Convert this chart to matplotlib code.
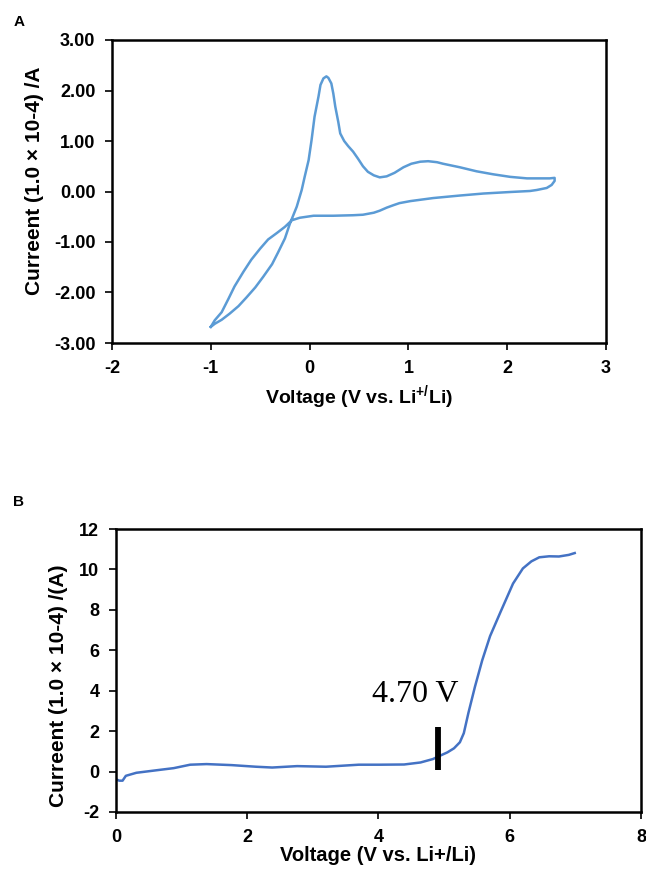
import matplotlib
matplotlib.use("Agg")
import matplotlib.pyplot as plt
from matplotlib import font_manager

# Panel A : cyclic voltammogram (anodic sweep, then cathodic return)
cv_v = [-1.00, -0.96, -0.89, -0.81, -0.72, -0.64, -0.55, -0.47, -0.38, -0.32,
        -0.25, -0.20, -0.13, -0.08, -0.05, -0.01, 0.02, 0.05, 0.09, 0.11,
        0.14, 0.17, 0.19, 0.22, 0.24, 0.26, 0.29, 0.31, 0.35, 0.39,
        0.44, 0.49, 0.54, 0.59, 0.65, 0.71, 0.78, 0.86, 0.95, 1.03,
        1.12, 1.20, 1.29, 1.35, 1.52, 1.69, 1.86, 2.03, 2.20, 2.37,
        2.43, 2.48, 2.48, 2.45, 2.40, 2.30, 2.23, 2.03, 1.76, 1.52,
        1.25, 1.02, 0.91, 0.85, 0.78, 0.71, 0.65, 0.54, 0.44, 0.24,
        0.04, -0.10, -0.18, -0.25, -0.33, -0.42, -0.50, -0.59, -0.67, -0.76,
        -0.82, -0.89, -0.96, -1.00]
cv_i = [-2.68, -2.62, -2.54, -2.42, -2.27, -2.10, -1.90, -1.69, -1.44, -1.21,
        -0.93, -0.64, -0.30, 0.03, 0.29, 0.62, 1.02, 1.48, 1.88, 2.11,
        2.24, 2.28, 2.25, 2.14, 1.94, 1.68, 1.38, 1.15, 1.00, 0.90,
        0.79, 0.65, 0.50, 0.39, 0.32, 0.28, 0.30, 0.37, 0.48, 0.55,
        0.59, 0.60, 0.58, 0.55, 0.48, 0.40, 0.34, 0.29, 0.26, 0.26,
        0.26, 0.27, 0.21, 0.13, 0.07, 0.03, 0.01, -0.01, -0.04, -0.08,
        -0.13, -0.19, -0.23, -0.27, -0.32, -0.38, -0.42, -0.46, -0.47, -0.48,
        -0.48, -0.52, -0.57, -0.70, -0.82, -0.95, -1.13, -1.35, -1.59, -1.88,
        -2.12, -2.39, -2.55, -2.68]

# Panel B : linear sweep voltammetry
lsv_v = [0.00, 0.05, 0.10, 0.15, 0.31, 0.63, 0.88, 1.13, 1.38, 1.76,
         2.13, 2.38, 2.76, 3.20, 3.70, 4.01, 4.39, 4.64, 4.83, 4.90,
         5.05, 5.15, 5.24, 5.30, 5.37, 5.47, 5.58, 5.70, 5.86, 6.05,
         6.20, 6.33, 6.45, 6.60, 6.75, 6.90, 6.99]
lsv_i = [-0.38, -0.45, -0.45, -0.21, -0.06, 0.07, 0.17, 0.34, 0.37, 0.32,
         0.24, 0.20, 0.27, 0.24, 0.34, 0.34, 0.35, 0.45, 0.62, 0.73,
         0.95, 1.15, 1.45, 1.90, 2.90, 4.20, 5.50, 6.70, 7.90, 9.30,
         10.05, 10.40, 10.60, 10.65, 10.64, 10.72, 10.81]

onset_v = 4.9
onset_bar = [0.1, 2.2]

plt.rcParams['font.family'] = ['Liberation Sans', 'DejaVu Sans']
plt.rcParams['axes.unicode_minus'] = False
plt.rcParams['mathtext.fontset'] = 'custom'
plt.rcParams['mathtext.bf'] = 'Liberation Sans:bold'
plt.rcParams['mathtext.rm'] = 'Liberation Sans'

installed = {f.name for f in font_manager.fontManager.ttflist}
tick_family = 'Liberation Sans Narrow' if 'Liberation Sans Narrow' in installed else 'Liberation Sans'
tick_size = 15.5 if tick_family == 'Liberation Sans Narrow' else 13

fig = plt.figure(figsize=(6.46, 8.74), dpi=100)

# ---- A
ax1 = fig.add_axes([112/646, 1 - 343/874, 494/646, 303/874])
ax1.plot(cv_v, cv_i, color='#5B9BD5', lw=1.8)
ax1.set_xlim(-2, 3)
ax1.set_ylim(-3, 3)
ax1.set_xticks([-2, -1, 0, 1, 2, 3])
ax1.set_yticks([-3, -2, -1, 0, 1, 2, 3])
ax1.set_yticklabels(["%.2f" % t for t in [-3, -2, -1, 0, 1, 2, 3]])
ax1.set_xlabel(r"Voltage (V vs. Li$^{\mathbf{+/}}$Li)", fontsize=14, fontweight='bold')
ax1.set_ylabel("Curreent (1.0 × 10-4) /A", fontsize=15, fontweight='bold')
ax1.xaxis.set_label_coords(0.5, -0.18)
ax1.yaxis.set_label_coords(-0.156, 0.535)

# ---- B
ax2 = fig.add_axes([116/646, 1 - 812/874, 525/646, 283/874])
ax2.plot(lsv_v, lsv_i, color='#4472C4', lw=1.8)
ax2.plot([onset_v, onset_v], onset_bar, color='black', lw=4.2, solid_capstyle='butt')
ax2.text(4.56, 3.8, "4.70 V", family='Liberation Serif', fontsize=23,
         ha='center', va='center')
ax2.set_xlim(0, 8)
ax2.set_ylim(-2, 12)
ax2.set_xticks([0, 2, 4, 6, 8])
ax2.set_yticks([-2, 0, 2, 4, 6, 8, 10, 12])
ax2.set_xlabel("Voltage (V vs. Li+/Li)", fontsize=14.5, fontweight='bold')
ax2.set_ylabel("Curreent (1.0 × 10-4) /(A)", fontsize=15, fontweight='bold')
ax2.xaxis.set_label_coords(0.5, -0.155)
ax2.yaxis.set_label_coords((58 - 116) / 525, (812 - 686) / 283)

for ax in (ax1, ax2):
    ax.yaxis.label.set_va('center')
    ax.xaxis.label.set_va('center')
    for s in ax.spines.values():
        s.set_linewidth(1.8)
        s.set_color('black')
    ax.tick_params(direction='out', length=5, width=1.2, pad=7)
    for lab in ax.get_xticklabels() + ax.get_yticklabels():
        lab.set_fontweight('bold')
        lab.set_family(tick_family)
        lab.set_fontsize(tick_size)

fig.text(19/646, 1 - 22/874, "A", fontsize=11, fontweight='bold', ha='center', va='center')
fig.text(19/646, 1 - 502/874, "B", fontsize=11, fontweight='bold', ha='center', va='center')

fig.savefig("out.png", dpi=100)
